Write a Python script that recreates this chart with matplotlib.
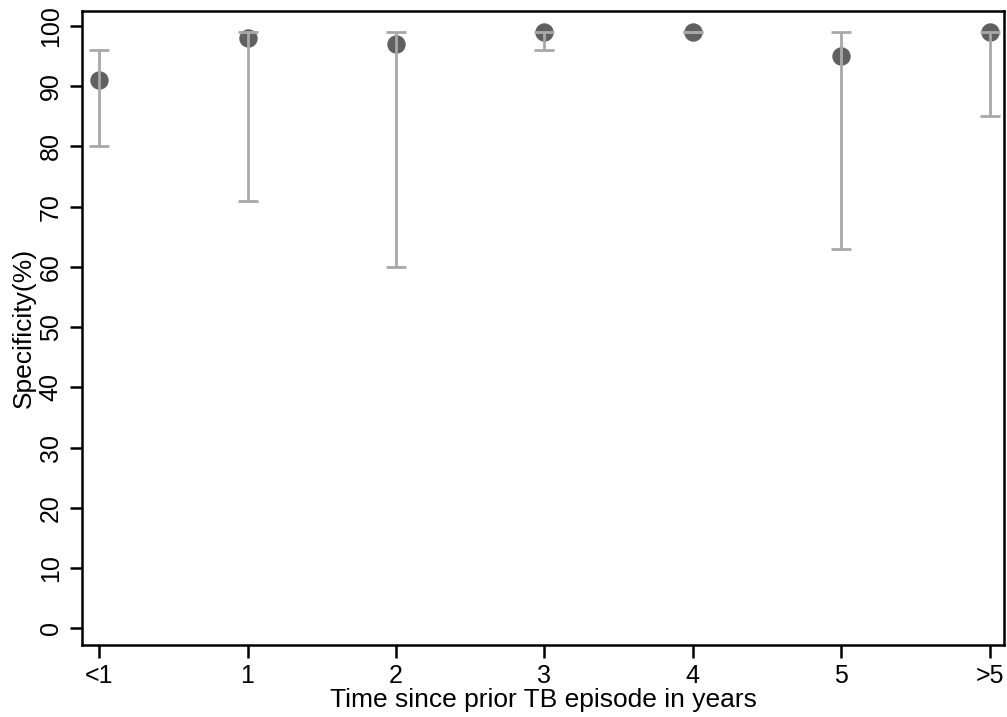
import matplotlib
matplotlib.use("Agg")
import matplotlib.pyplot as plt

plt.rcParams["font.family"] = ["Liberation Sans", "DejaVu Sans"]

# specificity estimates and 95% CI by time since prior TB episode
categories = ["<1", "1", "2", "3", "4", "5", ">5"]
spec = [91, 98, 97, 99, 99, 95, 99]
lower = [80, 71, 60, 96, 99, 63, 85]
upper = [96, 99, 99, 99, 99, 99, 99]

fig = plt.figure(figsize=(10.07, 7.17), dpi=100)
ax = fig.add_axes([0.0815, 0.101, 0.916, 0.884])

xs = list(range(len(categories)))
ax.scatter(xs, spec, s=150, color="#606060", zorder=2)
yerr = [[s - lo for s, lo in zip(spec, lower)], [up - s for s, up in zip(spec, upper)]]
ax.errorbar(xs, spec, yerr=yerr, fmt="none", ecolor="#a8a8a8", elinewidth=2,
            capsize=7, capthick=2, zorder=3)

ax.set_xlim(-0.115, 6.10)
ax.set_ylim(-2.7, 102.5)
ax.set_xticks(xs)
ax.set_xticklabels(categories)
ax.set_yticks(range(0, 101, 10))
for lab in ax.get_yticklabels():
    lab.set_rotation(90)
    lab.set_va("center")

ax.tick_params(axis="both", direction="out", length=9, width=1.8, labelsize=18, pad=5)
for sp in ax.spines.values():
    sp.set_linewidth(1.8)

ax.set_xlabel("Time since prior TB episode in years", fontsize=19, labelpad=0)
ax.set_ylabel("Specificity(%)", fontsize=19, labelpad=2)

fig.savefig("out.png", dpi=100)
